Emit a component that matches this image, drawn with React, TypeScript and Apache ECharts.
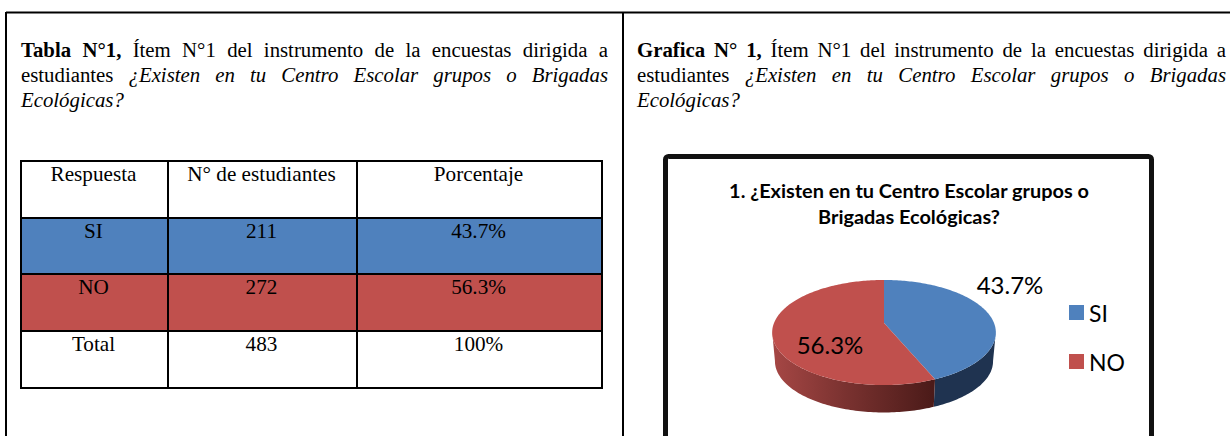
import React, { useEffect, useRef } from "react";
import * as echarts from "echarts";

const answers = ["SI", "NO"];
const students = [211, 272];
const percentLabels = ["43.7%", "56.3%"];
const tableHeader = ["Respuesta", "N° de estudiantes", "Porcentaje"];
const tableRows = [
  ["SI", "211", "43.7%"],
  ["NO", "272", "56.3%"],
  ["Total", "483", "100%"],
];
const chartTitle = "1. ¿Existen en tu Centro Escolar grupos o\nBrigadas Ecológicas?";

type Seg = [string, string];
const leftPara: Seg[][] = [
  [["bold", "Tabla N°1,"], ["normal", "Ítem N°1 del instrumento de la encuestas dirigida a"]],
  [["normal", "estudiantes"], ["italic", "¿Existen en tu Centro Escolar grupos o Brigadas"]],
  [["italic", "Ecológicas?"]],
];
const rightPara: Seg[][] = [
  [["bold", "Grafica N° 1,"], ["normal", "Ítem N°1 del instrumento de la encuestas dirigida a"]],
  [["normal", "estudiantes"], ["italic", "¿Existen en tu Centro Escolar grupos o Brigadas"]],
  [["italic", "Ecológicas?"]],
];

const BLUE = "#4F81BD";
const RED = "#C0504D";
const SERIF = '"Liberation Serif", serif';
const SANS = "Lato, sans-serif";
const PARA_SIZE = 20.8;

const ctx = document.createElement("canvas").getContext("2d")!;
function measure(t: string, style: string) {
  ctx.font = `${style === "italic" ? "italic " : style === "bold" ? "bold " : ""}${PARA_SIZE}px ${SERIF}`;
  return ctx.measureText(t).width;
}

function paragraph(lines: Seg[][], x0: number, x1: number, y0: number) {
  const out: any[] = [];
  lines.forEach((line, li) => {
    const words: { t: string; s: string; w: number }[] = [];
    line.forEach(([s, text]) =>
      text.split(" ").forEach((t) => words.push({ t, s, w: measure(t, s) }))
    );
    const total = words.reduce((a, w) => a + w.w, 0);
    const justify = li < lines.length - 1;
    const gap = justify ? (x1 - x0 - total) / (words.length - 1) : 5;
    let x = x0;
    words.forEach((w) => {
      out.push({
        type: "text",
        x,
        y: y0 + li * 25,
        style: {
          text: w.t,
          fill: "#000",
          font: `${w.s === "italic" ? "italic " : w.s === "bold" ? "bold " : ""}${PARA_SIZE}px ${SERIF}`,
          textVerticalAlign: "middle",
        },
      });
      x += w.w + gap;
    });
  });
  return out;
}

function table() {
  const xs = [21, 168, 357, 602];
  const ys = [161, 218, 274, 331, 388];
  const out: any[] = [];
  const fills = [null, BLUE, RED, null];
  [tableHeader, ...tableRows].forEach((row, r) => {
    if (fills[r])
      out.push({
        type: "rect",
        shape: { x: xs[0], y: ys[r], width: xs[3] - xs[0], height: ys[r + 1] - ys[r] },
        style: { fill: fills[r] },
      });
    row.forEach((cell, c) => {
      out.push({
        type: "text",
        x: (xs[c] + xs[c + 1]) / 2 - 1,
        y: ys[r] + 13,
        style: {
          text: cell,
          fill: "#000",
          font: `21.2px ${SERIF}`,
          textAlign: "center",
          textVerticalAlign: "middle",
        },
        z: 3,
      });
    });
  });
  xs.forEach((x) =>
    out.push({
      type: "line",
      shape: { x1: x, y1: ys[0] - 1, x2: x, y2: ys[4] + 1 },
      style: { stroke: "#000", lineWidth: 2 },
      z: 2,
    })
  );
  ys.forEach((y) =>
    out.push({
      type: "line",
      shape: { x1: xs[0] - 1, y1: y, x2: xs[3] + 1, y2: y },
      style: { stroke: "#000", lineWidth: 2 },
      z: 2,
    })
  );
  return out;
}

// perspective view of the pie disc
const CX = 884;
const HUB = 323;
const R = 110;
const RY = 50.8;
const K = 0.181;
const BOTTOM_HUB = 352;
const BOTTOM_SCALE = 0.975;

function rim(theta: number, lower: boolean): number[] {
  const u = Math.sin(theta);
  const v = -Math.cos(theta);
  const p = 1 / (1 - K * v);
  const s = lower ? BOTTOM_SCALE : 1;
  return [CX + R * u * p * s, (lower ? BOTTOM_HUB : HUB) + RY * v * p * s];
}

function arc(a: number, b: number, lower: boolean) {
  const n = Math.max(2, Math.ceil(Math.abs(b - a) / 0.02));
  const pts: number[][] = [];
  for (let i = 0; i <= n; i++) pts.push(rim(a + ((b - a) * i) / n, lower));
  return pts;
}

const totalStudents = students.reduce((a, b) => a + b, 0);
const VIS_A = (100 * Math.PI) / 180;
const VIS_B = (260 * Math.PI) / 180;

function renderSlice(seriesIndex: number, fill: string, sideFill: any, labelPos: number[]) {
  const before = students.slice(0, seriesIndex).reduce((a, b) => a + b, 0);
  return (_: any, api: any) => {
    const value = api.value(0);
    const a = (before / totalStudents) * Math.PI * 2;
    const b = ((before + value) / totalStudents) * Math.PI * 2;
    const sa = Math.max(a, VIS_A);
    const sb = Math.min(b, VIS_B);
    const children: any[] = [];
    if (sb > sa) {
      children.push({
        type: "polygon",
        shape: { points: [...arc(sa, sb, false), ...arc(sb, sa, true)] },
        style: { fill: sideFill },
      });
    }
    children.push({
      type: "polygon",
      shape: { points: [[CX, HUB], ...arc(a, b, false)] },
      style: { fill },
    });
    children.push({
      type: "text",
      x: labelPos[0],
      y: labelPos[1],
      style: {
        text: percentLabels[seriesIndex],
        fill: "#000",
        font: `24px ${SANS}`,
        textAlign: "center",
        textVerticalAlign: "middle",
      },
    });
    return { type: "group", children };
  };
}

export default function App() {
  const ref = useRef<HTMLDivElement>(null);
  useEffect(() => {
    const chart = echarts.init(ref.current!, undefined, { renderer: "svg" });
    const redSide = new echarts.graphic.LinearGradient(0, 0, 1, 0, [
      { offset: 0, color: "#A64745" },
      { offset: 0.45, color: "#7A3230" },
      { offset: 1, color: "#4A1A18" },
    ]);
    const blueSide = "#1F3350";
    chart.setOption({
      animation: false,
      backgroundColor: "#fff",
      title: {
        text: chartTitle,
        left: 904,
        top: 172,
        textAlign: "center",
        textStyle: { fontFamily: SANS, fontWeight: "bold", fontSize: 19.9, lineHeight: 26, color: "#000" },
      },
      legend: {
        data: answers,
        orient: "vertical",
        left: 1064,
        top: 296,
        itemWidth: 15,
        itemHeight: 15,
        itemGap: 26,
        icon: "rect",
        selectedMode: false,
        textStyle: { fontFamily: SANS, fontSize: 23, color: "#000" },
      },
      graphic: [
        { type: "line", shape: { x1: 6, y1: 12.5, x2: 1230, y2: 12.5 }, style: { stroke: "#000", lineWidth: 2 } },
        { type: "line", shape: { x1: 6, y1: 12, x2: 6, y2: 436 }, style: { stroke: "#000", lineWidth: 2 } },
        { type: "line", shape: { x1: 623, y1: 12, x2: 623, y2: 436 }, style: { stroke: "#000", lineWidth: 2 } },
        {
          type: "rect",
          shape: { x: 665.5, y: 156.5, width: 486, height: 400, r: 3 },
          style: { fill: "none", stroke: "#111", lineWidth: 5 },
        },
        ...paragraph(leftPara, 21, 608, 49),
        ...paragraph(rightPara, 637, 1226, 49),
        ...table(),
      ],
      series: [
        {
          type: "custom",
          name: answers[0],
          coordinateSystem: "none",
          itemStyle: { color: BLUE },
          data: [students[0]],
          renderItem: renderSlice(0, BLUE, blueSide, [1010, 284]),
        },
        {
          type: "custom",
          name: answers[1],
          coordinateSystem: "none",
          itemStyle: { color: RED },
          data: [students[1]],
          renderItem: renderSlice(1, RED, redSide, [830, 344]),
        },
      ],
    });
    return () => chart.dispose();
  }, []);
  return <div ref={ref} style={{ position: "absolute", left: 0, top: 0, width: 1230, height: 436 }} />;
}
